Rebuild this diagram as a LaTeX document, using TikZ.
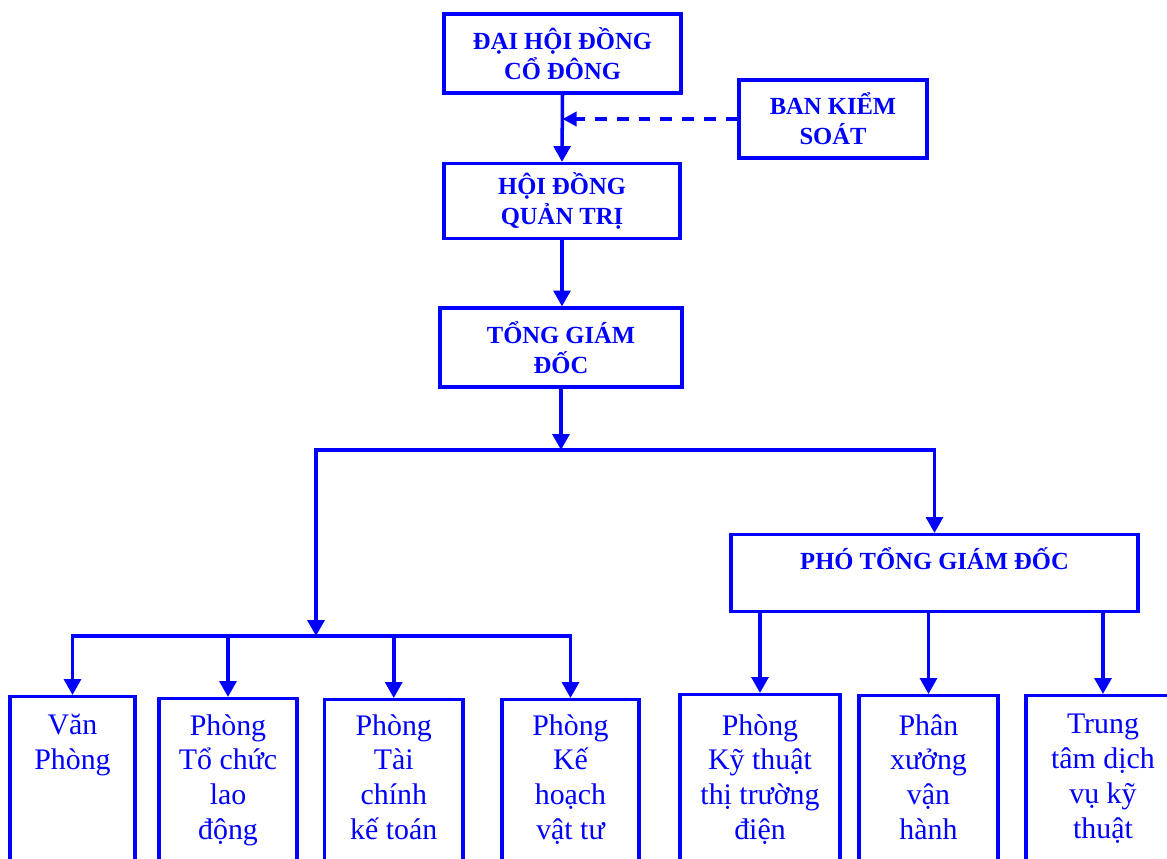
\documentclass[tikz,border=0pt]{standalone}
\usepackage{fontspec}
\setmainfont{Liberation Serif}
\usetikzlibrary{arrows.meta, positioning, calc}

\begin{document}
\begin{tikzpicture}[x=0.02cm, y=-0.02cm,
      >={Triangle[length=9pt, width=9.5pt]},
      link/.style={blue, line width=2pt},
      box/.style={draw=blue, line width=1.8pt, text=blue, align=center, inner sep=0pt,
        font=\fontsize{14}{17}\selectfont\bfseries},
      dept/.style={draw=blue, line width=1.8pt, anchor=north, minimum height=4cm, inner sep=0pt},
      dtext/.style={text=blue, align=center, anchor=north, inner sep=0pt,
        font=\fontsize{17}{19.8}\selectfont}]

      \clip (0,0) rectangle (1167,859);

      \node[box, minimum width=4.74cm, minimum height=1.58cm] (dhd) at (562.5,53.5) {ĐẠI HỘI ĐỒNG\\CỔ ĐÔNG};
      \node[box, minimum width=3.76cm, minimum height=1.56cm] (bks) at (833,119) {BAN KIỂM\\SOÁT};
      \node[box, minimum width=4.72cm, minimum height=1.5cm] (hdqt) at (562,201) {HỘI ĐỒNG\\QUẢN TRỊ};
      \node[box, minimum width=4.84cm, minimum height=1.58cm] (tgd) at (561,347.5) {TỔNG GIÁM\\ĐỐC};
      \node[box, anchor=north, minimum width=8.14cm, text height=0.7cm, text depth=0.84cm] (ptgd) at (934.5,533) {PHÓ TỔNG GIÁM ĐỐC};

      \node[dept, minimum width=2.5cm] (b1) at (72.5,695) {};
      \node[dept, minimum width=2.76cm] (b2) at (228,697) {};
      \node[dept, minimum width=2.77cm] (b3) at (393.75,698) {};
      \node[dept, minimum width=2.74cm] (b4) at (570.5,698) {};
      \node[dept, minimum width=3.2cm] (b5) at (760,693) {};
      \node[dept, minimum width=2.78cm] (b6) at (928.5,694) {};
      \node[dept, minimum width=3.08cm] (b7) at (1103,694) {};

      \coordinate (row) at (0,714);
      \node[dtext] (t1) at (b1.north |- row) {Văn\\Phòng};
      \node[dtext] (t2) at (b2.north |- row) {Phòng\\Tổ chức\\lao\\động};
      \node[dtext] (t3) at (b3.north |- row) {Phòng\\Tài\\chính\\kế toán};
      \node[dtext] (t4) at (b4.north |- row) {Phòng\\Kế\\hoạch\\vật tư};
      \node[dtext] (t5) at (b5.north |- row) {Phòng\\Kỹ thuật\\thị trường\\điện};
      \node[dtext] (t6) at (b6.north |- row) {Phân\\xưởng\\vận\\hành};
      \node[dtext] (t7) at (b7.north |- row) {Trung\\tâm dịch\\vụ kỹ\\thuật};

      \draw[link, ->] (dhd.south) -- (hdqt.north);
      \draw[link, -{Triangle[length=8pt, width=8pt]}, dashed, dash pattern=on 6.6pt off 5.8pt]
        (bks.west) -- (bks.west -| dhd.south);
      \draw[link, ->] (hdqt.south) -- (hdqt.south |- tgd.north);

      \coordinate (fork) at (561,450);
      \coordinate (lft) at (316,450);
      \coordinate (bus) at (316,636);
      \draw[link, ->] (tgd.south) -- (fork);
      \draw[link, <->] (bus) -- (lft) -- (lft -| ptgd.north) -- (ptgd.north);

      \draw[link, ->] (bus) -| (b1.north);
      \draw[link, ->] (bus) -| (b4.north);
      \draw[link, ->] (bus -| b2.north) -- (b2.north);
      \draw[link, ->] (bus -| b3.north) -- (b3.north);

      \foreach \b in {b5, b6, b7}
        \draw[link, ->] (ptgd.south -| \b.north) -- (\b.north);

    \end{tikzpicture}
\end{document}
